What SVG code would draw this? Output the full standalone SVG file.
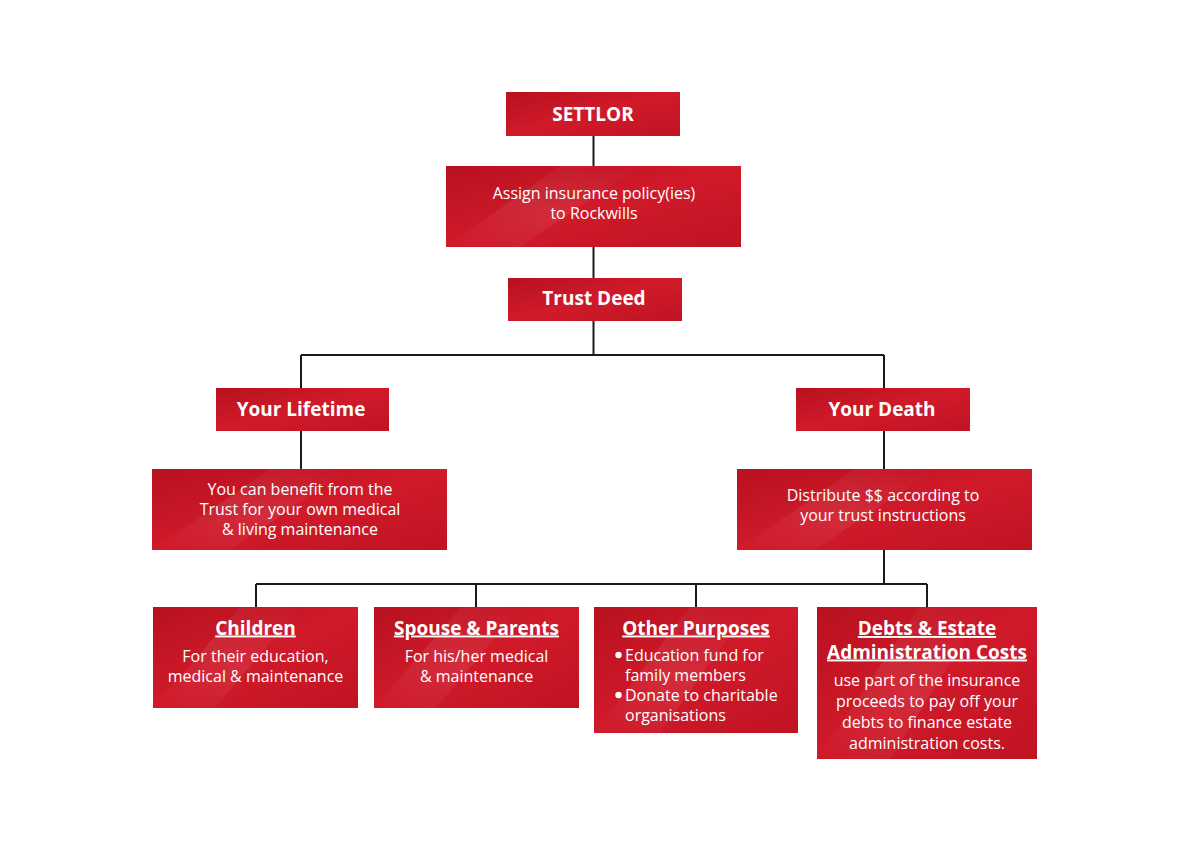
<svg xmlns="http://www.w3.org/2000/svg" width="1200" height="848" viewBox="0 0 1200 848">
<defs>
<linearGradient id="red" x1="0" y1="0" x2="1" y2="1">
<stop offset="0" stop-color="#b8111f"/>
<stop offset="0.5" stop-color="#d01a2a"/>
<stop offset="1" stop-color="#c01322"/>
</linearGradient>
<linearGradient id="sheen" x1="0" y1="1" x2="1" y2="0">
<stop offset="0" stop-color="#ffffff" stop-opacity="0"/>
<stop offset="0.5" stop-color="#ffffff" stop-opacity="0.08"/>
<stop offset="1" stop-color="#ffffff" stop-opacity="0"/>
</linearGradient>
</defs>
<style>
.box{fill:url(#red);}
.sh{fill:url(#sheen);}
.t{font-family:"Open Sans","Noto Sans","Liberation Sans",sans-serif;fill:#ffffff;text-anchor:middle;}
.h{font-size:19px;font-weight:bold;}
.u{text-decoration:underline;}
.b{font-size:16px;}
.l{text-anchor:start;}
.c{stroke:#1a1a1a;stroke-width:2;fill:none;}
</style>
<rect width="1200" height="848" fill="#ffffff"/>
<g id="connectors">
<path class="c" d="M593.5 136V166M593.5 247V278M593.5 321V355M301 355H884M301 355V388M884 355V388M301 431V469M884 431V469M884 550V584M256 584H927M256 584V607M476 584V607M696 584V607M927 584V607"/>
</g>
<g id="settlor">
<rect class="box" x="506" y="92" width="174" height="44"/>
<text class="t h" x="593" y="120.5">SETTLOR</text>
</g>
<g id="assign">
<rect class="box" x="446" y="166" width="295" height="81"/>
<polygon class="sh" points="446,247 560,166 640,166 520,247"/>
<text class="t b" x="594" y="199">Assign insurance policy(ies)</text>
<text class="t b" x="594" y="219">to Rockwills</text>
</g>
<g id="trustdeed">
<rect class="box" x="508" y="278" width="174" height="43"/>
<text class="t h" x="594" y="305">Trust Deed</text>
</g>
<g id="lifetime">
<rect class="box" x="216" y="388" width="173" height="43"/>
<text class="t h" x="301" y="416">Your Lifetime</text>
</g>
<g id="death">
<rect class="box" x="796" y="388" width="174" height="43"/>
<text class="t h" x="882" y="416">Your Death</text>
</g>
<g id="lifetime-desc">
<rect class="box" x="152" y="469" width="295" height="81"/>
<polygon class="sh" points="152,550 270,469 350,469 230,550"/>
<text class="t b" x="300" y="495">You can benefit from the</text>
<text class="t b" x="300" y="515">Trust for your own medical</text>
<text class="t b" x="300" y="535">&amp; living maintenance</text>
</g>
<g id="distribute">
<rect class="box" x="737" y="469" width="295" height="81"/>
<polygon class="sh" points="737,550 855,469 935,469 815,550"/>
<text class="t b" x="883" y="500.5">Distribute $$ according to</text>
<text class="t b" x="883" y="520.5">your trust instructions</text>
</g>
<g id="children">
<rect class="box" x="153" y="607" width="205" height="101"/>
<polygon class="sh" points="153,708 240,607 300,607 215,708"/>
<text class="t h u" x="255.5" y="634.5">Children</text>
<text class="t b" x="255.5" y="661.5">For their education,</text>
<text class="t b" x="255.5" y="681.5">medical &amp; maintenance</text>
</g>
<g id="spouse">
<rect class="box" x="374" y="607" width="205" height="101"/>
<polygon class="sh" points="374,708 461,607 521,607 436,708"/>
<text class="t h u" x="476.5" y="634.5">Spouse &amp; Parents</text>
<text class="t b" x="476.5" y="661.5">For his/her medical</text>
<text class="t b" x="476.5" y="681.5">&amp; maintenance</text>
</g>
<g id="other">
<rect class="box" x="594" y="607" width="204" height="126"/>
<polygon class="sh" points="594,733 690,607 750,607 660,733"/>
<text class="t h u" x="696" y="634.5">Other Purposes</text>
<circle cx="618.5" cy="655" r="3.2" fill="#ffffff"/>
<text class="t b l" x="625" y="660.5">Education fund for</text>
<text class="t b l" x="625" y="680.5">family members</text>
<circle cx="618.5" cy="695" r="3.2" fill="#ffffff"/>
<text class="t b l" x="625" y="700.5">Donate to charitable</text>
<text class="t b l" x="625" y="720.5">organisations</text>
</g>
<g id="debts">
<rect class="box" x="817" y="607" width="220" height="152"/>
<polygon class="sh" points="817,759 920,607 985,607 890,759"/>
<text class="t h u" x="927" y="635">Debts &amp; Estate</text>
<text class="t h u" x="927" y="658.5">Administration Costs</text>
<text class="t b" x="927" y="686">use part of the insurance</text>
<text class="t b" x="927" y="707">proceeds to pay off your</text>
<text class="t b" x="927" y="727.5">debts to finance estate</text>
<text class="t b" x="927" y="748.5">administration costs.</text>
</g>
</svg>
